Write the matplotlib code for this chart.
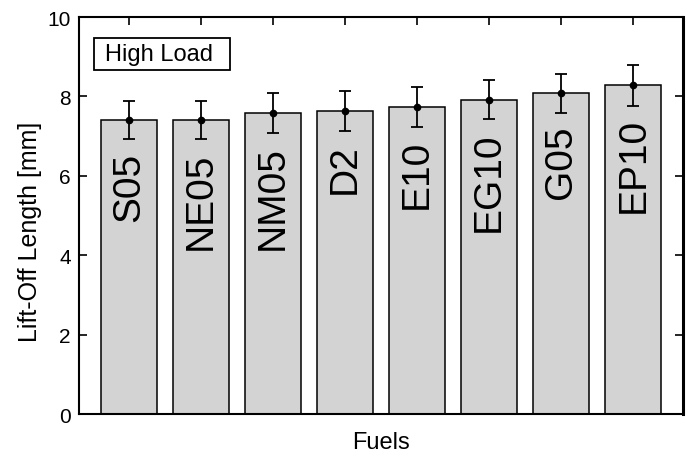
import matplotlib.pyplot as plt
from matplotlib.patches import Rectangle

plt.rcParams['font.family'] = ['Liberation Sans', 'DejaVu Sans']

# Lift-off lengths for each fuel (high load) with error estimates
fuels = ['S05', 'NE05', 'NM05', 'D2', 'E10', 'EG10', 'G05', 'EP10']
lol = [7.40, 7.40, 7.58, 7.63, 7.73, 7.92, 8.08, 8.28]
err = [0.48, 0.48, 0.50, 0.51, 0.50, 0.50, 0.49, 0.51]

pos = list(range(1, len(fuels) + 1))

fig = plt.figure(figsize=(6.92, 4.56), dpi=100)
ax = fig.add_axes([0.1142, 0.0899, 0.8728, 0.8706])

ax.bar(pos, lol, width=0.78, color='#d3d3d3', edgecolor='black', linewidth=1.1, zorder=2)
ax.errorbar(pos, lol, yerr=err, fmt='o', color='black', markersize=4.5,
            elinewidth=1.3, capsize=4, capthick=1.3, zorder=3)

# fuel names written vertically inside the bars
for p, v, name in zip(pos, lol, fuels):
    ax.text(p, v - 0.8, name, rotation=90, ha='center', va='top', fontsize=28, zorder=4)

ax.set_xlim(0.31, 8.69)
ax.set_ylim(0, 10)
ax.set_xticks(pos)
ax.set_xticklabels([])
ax.set_yticks([0, 2, 4, 6, 8, 10])
ax.tick_params(axis='x', direction='in', bottom=False, top=True, length=6, width=1.2)
ax.tick_params(axis='y', direction='in', left=True, right=True, length=6, width=1.2,
               labelsize=15, pad=6)
for side in ['left', 'top', 'bottom']:
    ax.spines[side].set_linewidth(1.5)
ax.spines['right'].set_linewidth(2.2)

ax.set_xlabel('Fuels', fontsize=17)
ax.xaxis.set_label_coords(0.5, -0.086)
ax.xaxis.label.set_va('baseline')
ax.set_ylabel('Lift-Off Length [mm]', fontsize=18)
ax.yaxis.set_label_coords(-0.061, 0.461)

# load condition tag
ax.add_patch(Rectangle((0.0248, 0.8665), 0.2252, 0.0805, transform=ax.transAxes,
                       facecolor='white', edgecolor='black', linewidth=1.3, zorder=5))
ax.text(0.043, 0.907, 'High Load', transform=ax.transAxes, ha='left', va='center',
        fontsize=17, zorder=6)

plt.savefig('out.png', dpi=100)
